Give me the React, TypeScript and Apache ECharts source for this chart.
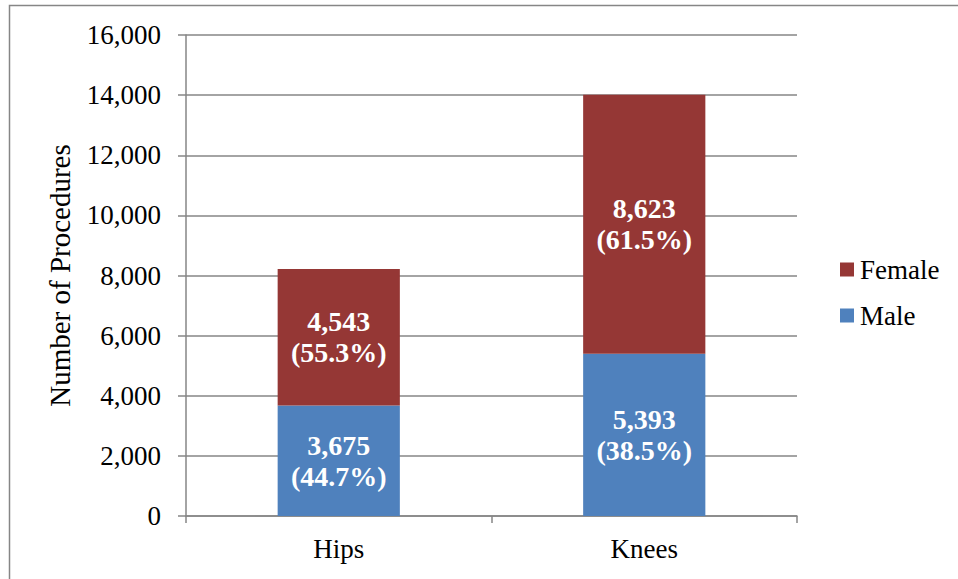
import React, { useEffect, useRef } from "react";
import * as echarts from "echarts";

const categories = ["Hips", "Knees"];
const maleValues = [3675, 5393];
const femaleValues = [4543, 8623];
const malePct = ["44.7%", "38.5%"];
const femalePct = ["55.3%", "61.5%"];
const yTicks = { min: 0, max: 16000, interval: 2000 };

const FONT = "Liberation Serif";
const AXIS_GRAY = "#868686";

export default function App() {
  const ref = useRef<HTMLDivElement>(null);
  useEffect(() => {
    if (!ref.current) return;
    const chart = echarts.init(ref.current, undefined, { renderer: "svg" });
    const fmt = (v: number) => v.toLocaleString("en-US");
    const labelStyle = {
      show: true,
      position: "inside",
      fontFamily: FONT,
      fontSize: 28,
      fontWeight: "bold",
      color: "#fff",
      lineHeight: 31,
    };
    chart.setOption({
      animation: false,
      backgroundColor: "#ffffff",
      textStyle: { fontFamily: FONT },
      graphic: [
        {
          type: "rect",
          shape: { x: 9.5, y: 5.5, width: 1200, height: 1200 },
          style: { fill: "none", stroke: AXIS_GRAY, lineWidth: 1.5 },
          silent: true,
        },
      ],
      grid: { left: 186, right: 161, top: 35, bottom: 63 },
      legend: {
        orient: "vertical",
        left: 835,
        top: 251,
        itemWidth: 14,
        itemHeight: 14,
        itemGap: 19,
        icon: "rect",
        data: ["Female", "Male"],
        textStyle: { fontFamily: FONT, fontSize: 27, color: "#000", padding: [0, 0, 0, 1] },
      },
      xAxis: {
        type: "category",
        data: categories,
        axisLine: { lineStyle: { color: AXIS_GRAY, width: 1.5 } },
        axisTick: { show: true, length: 7, lineStyle: { color: AXIS_GRAY, width: 1.5 } },
        axisLabel: { fontFamily: FONT, fontSize: 27, color: "#000", margin: 19 },
      },
      yAxis: {
        type: "value",
        min: yTicks.min,
        max: yTicks.max,
        interval: yTicks.interval,
        name: "Number of Procedures",
        nameLocation: "middle",
        nameGap: 112,
        nameTextStyle: { fontFamily: FONT, fontSize: 29, color: "#000" },
        axisLine: { show: true, lineStyle: { color: AXIS_GRAY, width: 1.5 } },
        axisTick: { show: true, length: 8, lineStyle: { color: AXIS_GRAY, width: 1.5 } },
        splitLine: { lineStyle: { color: AXIS_GRAY, width: 1.5 } },
        axisLabel: {
          fontFamily: FONT,
          fontSize: 27,
          color: "#000",
          margin: 25,
          formatter: (v: number) => fmt(v),
        },
      },
      series: [
        {
          name: "Male",
          type: "bar",
          stack: "total",
          barWidth: "40%",
          data: maleValues,
          itemStyle: { color: "#4F81BD" },
          label: {
            ...labelStyle,
            formatter: (p: any) => `${fmt(p.value)}\n(${malePct[p.dataIndex]})`,
          },
        },
        {
          name: "Female",
          type: "bar",
          stack: "total",
          barWidth: "40%",
          data: femaleValues,
          itemStyle: { color: "#953735" },
          label: {
            ...labelStyle,
            formatter: (p: any) => `${fmt(p.value)}\n(${femalePct[p.dataIndex]})`,
          },
        },
      ],
    });
    return () => chart.dispose();
  }, []);
  return (
    <div
      ref={ref}
      style={{ position: "fixed", left: 0, top: 0, width: 958, height: 579 }}
    />
  );
}
